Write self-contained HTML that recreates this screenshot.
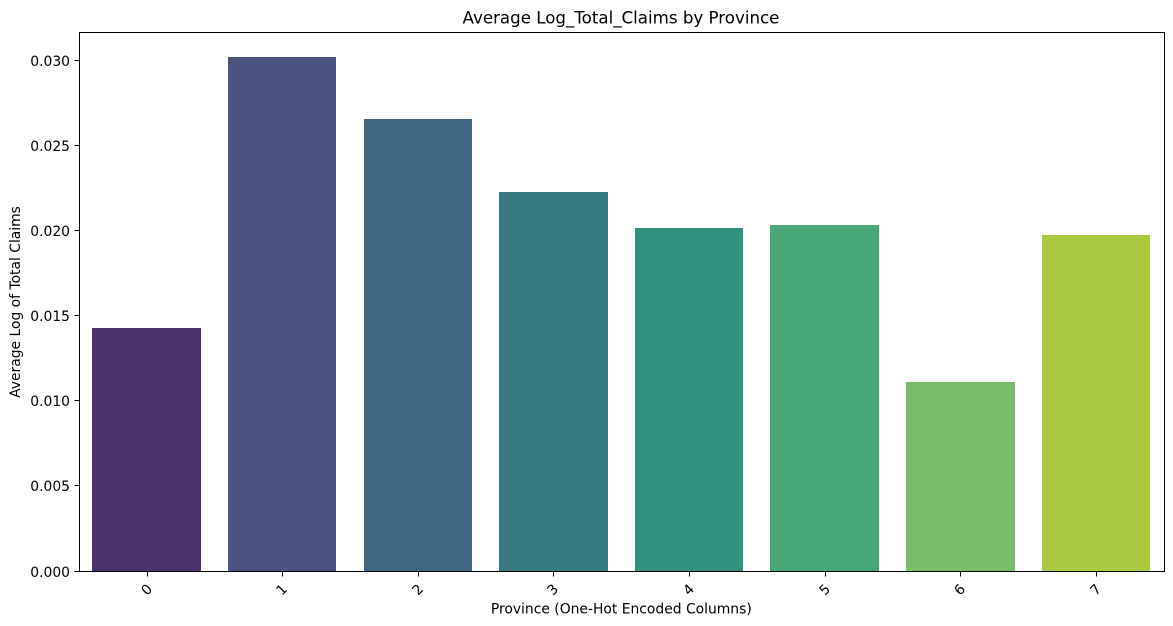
<!DOCTYPE html>
<html lang="en">
<head>
<meta charset="utf-8">
<title>Average Log_Total_Claims by Province</title>
<style>
html,body{margin:0;padding:0;background:#fff;width:1173px;height:626px;overflow:hidden}
svg{display:block}
text{font-family:"DejaVu Sans","Liberation Sans",sans-serif;fill:#000}
</style>
</head>
<body>
<svg id="chart" width="1173" height="626" viewBox="0 0 1173 626" xmlns="http://www.w3.org/2000/svg"></svg>
<script>
const categories = ["0", "1", "2", "3", "4", "5", "6", "7"];
const seriesValues = [0.01428, 0.03020, 0.02656, 0.02225, 0.02013, 0.02034, 0.01108, 0.01972];
const barColors = ["#4c3370", "#4a5280", "#3f6683", "#357981", "#2f917e", "#47a776", "#78be68", "#aac842"];
const yTickValues = [0, 0.005, 0.01, 0.015, 0.02, 0.025, 0.03];
const yTickLabels = ["0.000", "0.005", "0.010", "0.015", "0.020", "0.025", "0.030"];

const svg = document.getElementById('chart');
const NS = 'http://www.w3.org/2000/svg';
const plot = { left: 79.5, right: 1164.5, top: 32.5, bottom: 571.5 };
const zeroY = 571;
const pxPerUnit = 17017;
const firstCenter = 146.55;
const step = 135.62;
const barWidth = 108.5;
const fontSize = 13.89;

function xScale(i) {
  return firstCenter + step * i;
}
function yScale(v) {
  return zeroY - v * pxPerUnit;
}
function make(tag, attrs, text) {
  const el = document.createElementNS(NS, tag);
  for (const k in attrs) el.setAttribute(k, attrs[k]);
  if (text !== undefined) el.textContent = text;
  svg.appendChild(el);
  return el;
}

seriesValues.forEach(function (v, i) {
  const x0 = Math.round(xScale(i) - barWidth / 2);
  const x1 = Math.round(xScale(i) + barWidth / 2);
  const top = Math.round(yScale(v));
  const bar = make('rect', {
    x: x0,
    y: top,
    width: x1 - x0,
    height: zeroY - top,
    fill: barColors[i],
    'shape-rendering': 'crispEdges'
  });
  
  
});

yTickValues.forEach(function (v, i) {
  const y = Math.floor(yScale(v)) + 0.5;
  const tick = make('line', { x1: plot.left - 5, x2: plot.left, y1: y, y2: y, stroke: '#000', 'stroke-width': 1, 'shape-rendering': 'crispEdges' });
  
  
  const label = make('text', { x: plot.left - 9.5, y: y + 5.6, 'text-anchor': 'end', 'font-size': fontSize }, yTickLabels[i]);
  
  
});

categories.forEach(function (c, i) {
  const x = Math.round(xScale(i)) + 0.5;
  const tick = make('line', { x1: x, x2: x, y1: plot.bottom, y2: plot.bottom + 5, stroke: '#000', 'stroke-width': 1, 'shape-rendering': 'crispEdges' });
  
  
  const cx = x - 1;
  const cy = 589.5;
  const label = make('text', {
    x: cx,
    y: cy + 5,
    'text-anchor': 'middle',
    'font-size': fontSize,
    transform: 'rotate(-45 ' + cx + ' ' + cy + ')'
  }, c);
  
  
});

const frame = make('rect', { x: plot.left, y: plot.top, width: plot.right - plot.left, height: plot.bottom - plot.top, fill: 'none', stroke: '#000', 'stroke-width': 1, 'shape-rendering': 'crispEdges' });



const title = make('text', { x: 621, y: 23.5, 'text-anchor': 'middle', 'font-size': 16.67 }, 'Average Log_Total_Claims by Province');



const xTitle = make('text', { x: 621.3, y: 613.7, 'text-anchor': 'middle', 'font-size': fontSize }, 'Province (One-Hot Encoded Columns)');



const yTitle = make('text', { x: 20, y: 302, 'text-anchor': 'middle', 'font-size': fontSize, transform: 'rotate(-90 20 302)' }, 'Average Log of Total Claims');


</script>
</body>
</html>
